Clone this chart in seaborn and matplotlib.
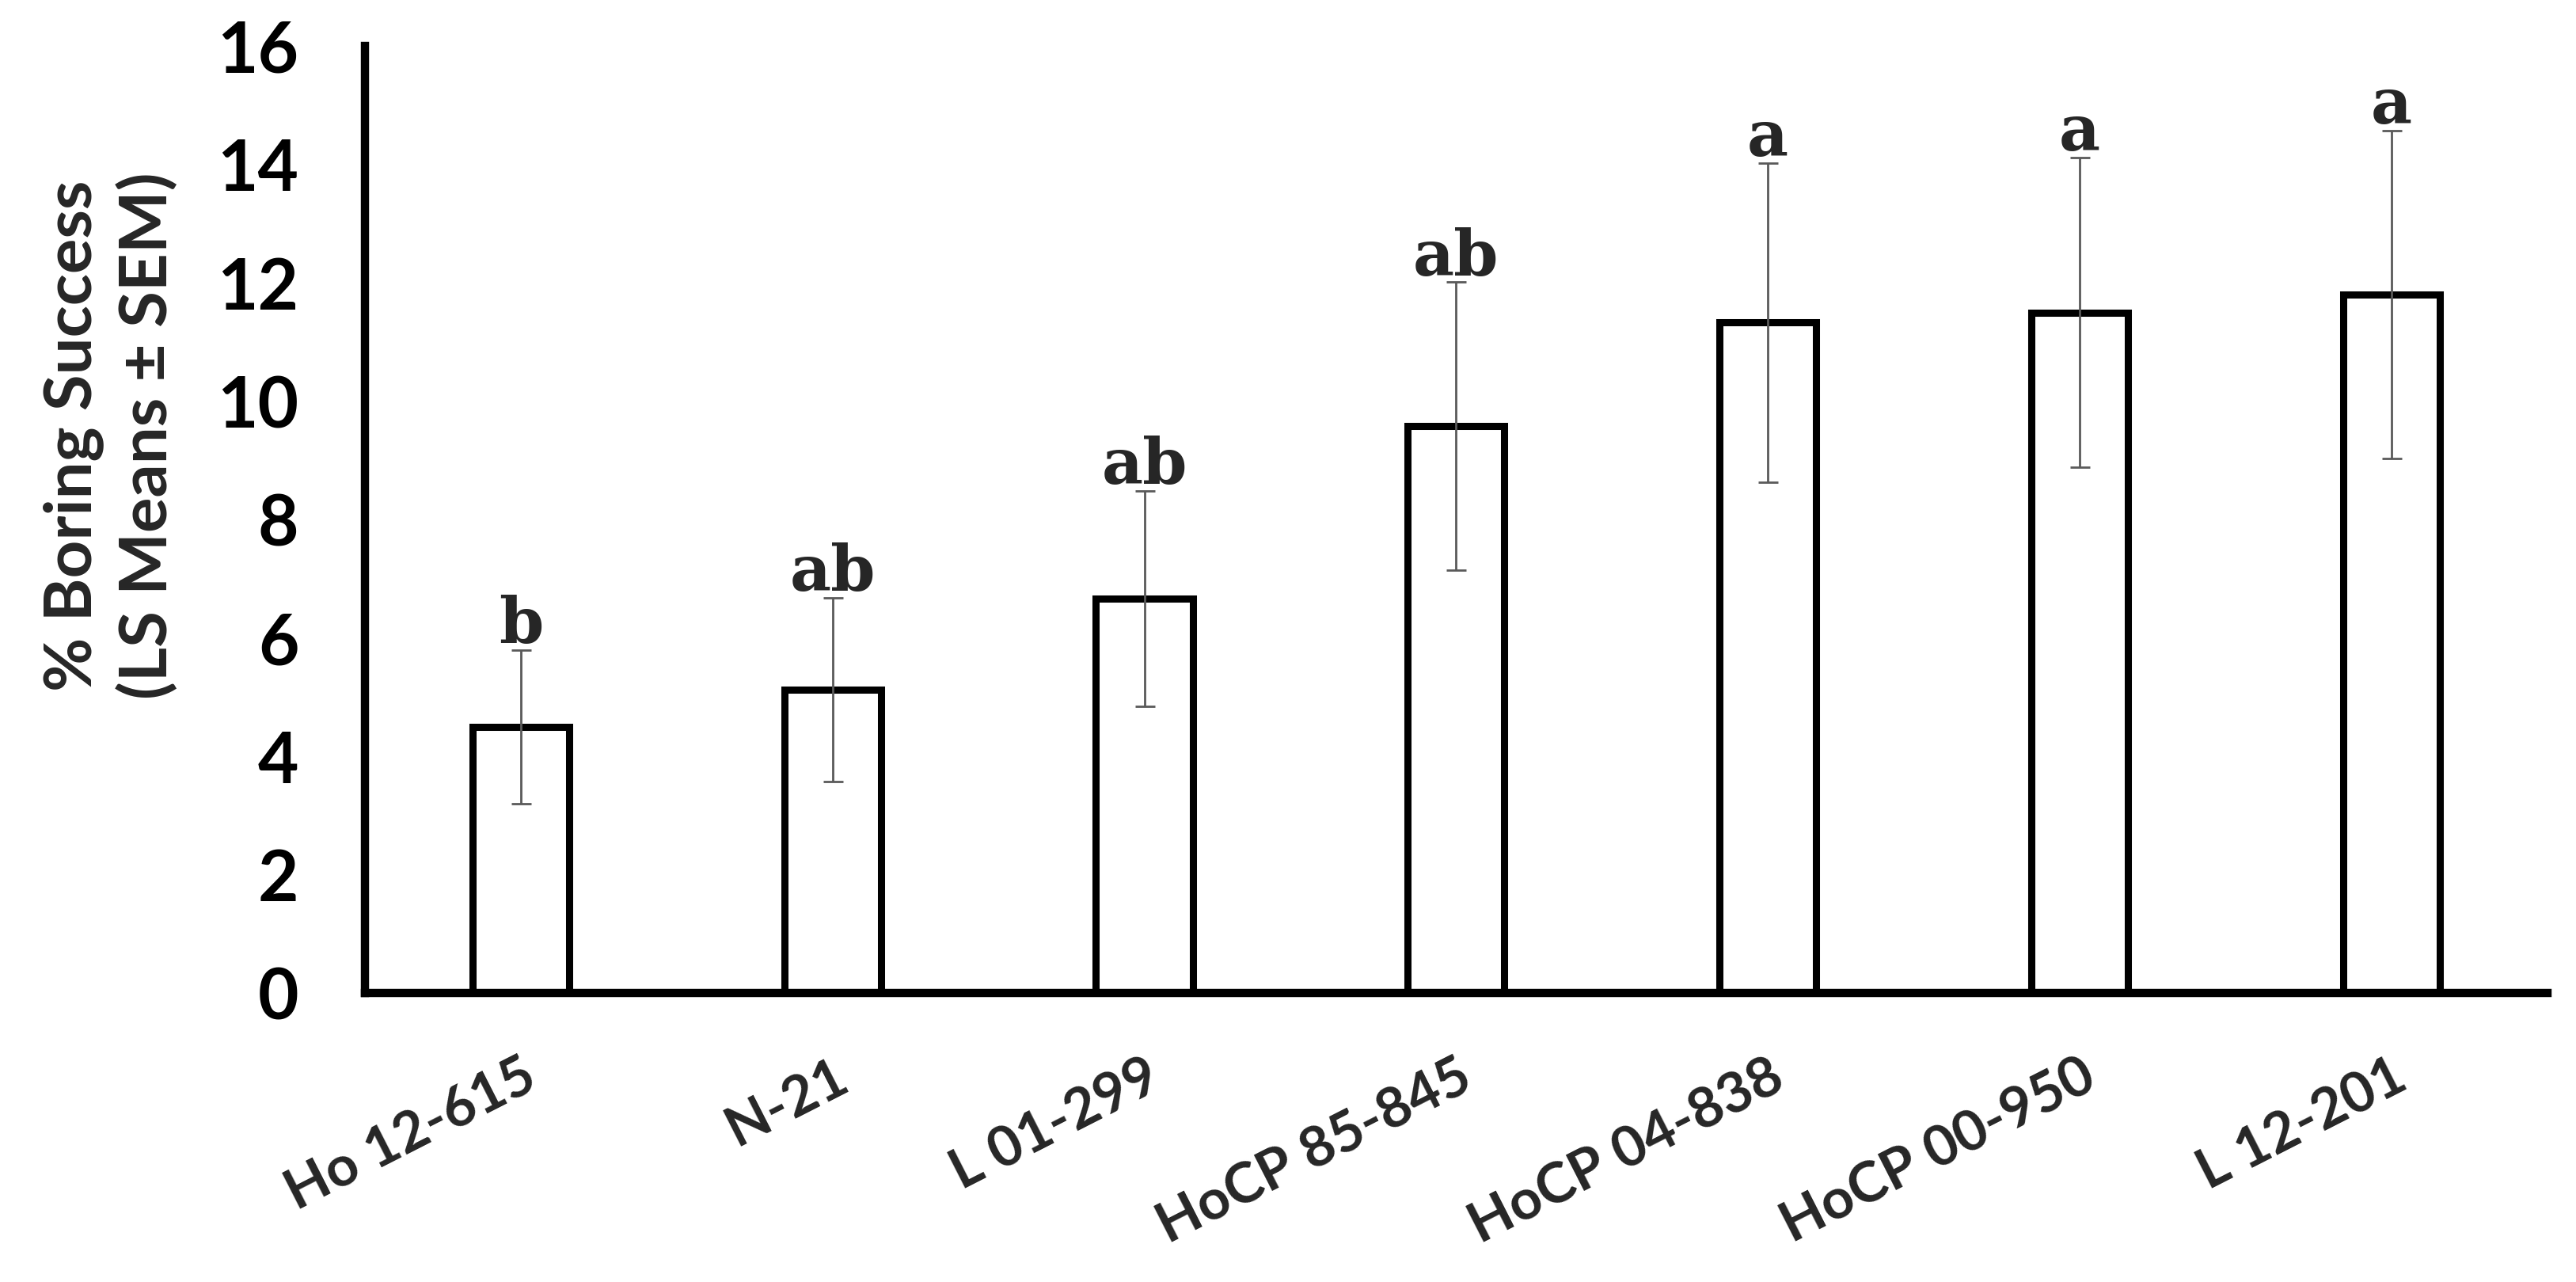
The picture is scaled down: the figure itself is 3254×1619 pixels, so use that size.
import pandas as pd
import matplotlib
matplotlib.use('Agg')
import matplotlib.pyplot as plt
import seaborn as sns

# LS means and SEM
cultivars = ['Ho 12-615', 'N-21', 'L 01-299', 'HoCP 85-845', 'HoCP 04-838', 'HoCP 00-950', 'L 12-201']
means = [4.50, 5.13, 6.67, 9.58, 11.33, 11.50, 11.80]
sems = [1.30, 1.55, 1.82, 2.43, 2.70, 2.62, 2.77]
letters = ['b', 'ab', 'ab', 'ab', 'a', 'a', 'a']

data = pd.DataFrame({'cultivar': cultivars, 'mean': means, 'sem': sems})

sns.set_style('white')
plt.rcParams['font.family'] = ['Lato', 'DejaVu Sans']
plt.rcParams['font.weight'] = 'bold'

fig = plt.figure(figsize=(32.55, 16.19), dpi=100)
ax = fig.add_axes([0.1416, 0.2254, 0.847, 0.7386])

sns.barplot(x='cultivar', y='mean', data=data, color='white', edgecolor='black',
            linewidth=6.5, width=0.31, saturation=1, errorbar=None, ax=ax, zorder=2)
ax.errorbar(range(len(cultivars)), data['mean'], yerr=data['sem'], fmt='none',
            ecolor='#5a5a5a', elinewidth=2, capsize=9, capthick=2, zorder=3)

for i, (m, s, lab) in enumerate(zip(means, sems, letters)):
    ax.text(i, m + s + 0.12, lab, ha='center', va='baseline', fontsize=58,
            fontweight='bold', family='DejaVu Serif')

ax.set_xlim(-0.5, 6.5)
ax.set_ylim(0, 16)
ax.set_yticks(range(0, 17, 2))
ax.set_xlabel('')
ax.set_ylabel('')

for side in ['top', 'right']:
    ax.spines[side].set_visible(False)
for side in ['left', 'bottom']:
    ax.spines[side].set_linewidth(7.5)
    ax.spines[side].set_color('black')

ax.tick_params(axis='y', direction='in', length=21, width=6, pad=60,
               labelsize=64, colors='black')
ax.tick_params(axis='x', length=0, pad=52, labelsize=51)
plt.setp(ax.get_xticklabels(), rotation=27, ha='right', va='top', rotation_mode='anchor',
         fontweight='bold')
plt.setp(ax.get_yticklabels(), fontweight='bold')

fig.text(0.043, 0.66, '% Boring Success\n(LS Means \u00b1 SEM)', rotation=90,
         ha='center', va='center', fontsize=60, fontweight='bold', linespacing=1.25)

fig.savefig('out.png', dpi=100)
